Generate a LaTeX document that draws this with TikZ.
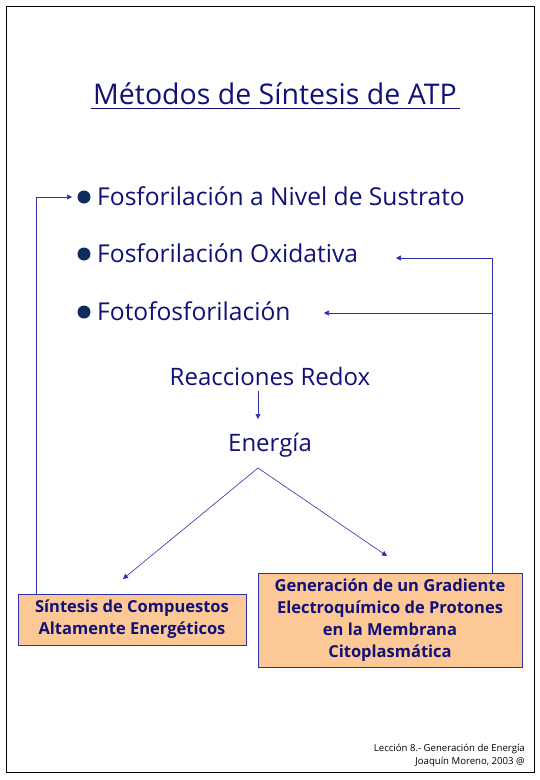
\documentclass[tikz,border=0pt]{standalone}
\usepackage{fontspec}
\setmainfont{Open Sans}
\usetikzlibrary{arrows.meta}

\definecolor{navy}{RGB}{16,16,120}
\definecolor{lineblue}{RGB}{48,48,170}
\definecolor{peach}{RGB}{252,200,150}
\definecolor{dotblue}{RGB}{14,44,92}

\tikzset{
  txt/.style={text=navy, inner sep=0pt, font=\fontsize{24}{28}\selectfont},
  item/.style={txt, anchor=base west, font=\fontsize{24.6}{28}\selectfont},
  arr/.style={draw=lineblue, line width=0.6pt, -{Triangle[length=5pt,width=5pt]}},
  box/.style={draw=lineblue, line width=0.8pt, fill=peach, text=navy, align=center,
    inner sep=0pt, font=\bfseries\fontsize{16.5}{22}\selectfont},
  bullet/.style={circle, fill=dotblue, inner sep=0pt, minimum size=13pt},
  foot/.style={anchor=base east, inner sep=0pt, font=\fontsize{9.6}{11}\selectfont},
}

\begin{document}
\begin{tikzpicture}[x=1pt, y=-1pt]
  \useasboundingbox (0,0) rectangle (540,780);
  % frame
  \draw[black, line width=0.8pt] (6,6) rectangle (534,772);

  % title
  \node[txt, anchor=base, font=\fontsize{28.5}{32}\selectfont] (title) at (275,104) {Métodos de Síntesis de ATP};
  \draw[navy, line width=1.6pt] (91,108.5) -- (460,108.5);

  % list
  \node[bullet] (d1) at (84,197) {};
  \node[bullet] (d2) at (84,254) {};
  \node[bullet] (d3) at (84,312) {};
  \node[item] (m1) at (97,205.5) {Fosforilación a Nivel de Sustrato};
  \node[item] (m2) at (97,262) {Fosforilación Oxidativa};
  \node[item] (m3) at (97,320.5) {Fotofosforilación};

  % redox -> energia
  \node[txt, anchor=base] (redox) at (270,385) {Reacciones Redox};
  \node[txt, anchor=base] (energia) at (270,451) {Energía};
  \coordinate (top) at (258,468);
  \draw[arr] (258,391) -- (258,419);

  % boxes
  \node[box, minimum width=228pt, minimum height=51pt] (sint) at (132,619.5)
    {Síntesis de Compuestos\\Altamente Energéticos};
  \node[box, minimum width=264pt, minimum height=94pt] (grad) at (390,620)
    {Generación de un Gradiente\\Electroquímico de Protones\\en la Membrana\\Citoplasmática};

  % energia -> boxes
  \draw[arr] (top) -- (123,579);
  \draw[arr] (top) -- (387,556);

  % feedback arrows
  \coordinate (a1) at (72,197);
  \coordinate (a2) at (396,258);
  \coordinate (a3) at (324,313);
  \draw[arr] (sint.north -| 36,0) |- (a1);
  \draw[arr] (grad.north -| 492,0) |- (a2);
  \draw[arr] (492,313) -- (a3);

  % footer
  \node[foot] (les) at (525,751) {Lección 8.- Generación de Energía};
  \node[foot] (aut) at (525,764) {Joaquín Moreno, 2003 @};
\end{tikzpicture}
\end{document}
